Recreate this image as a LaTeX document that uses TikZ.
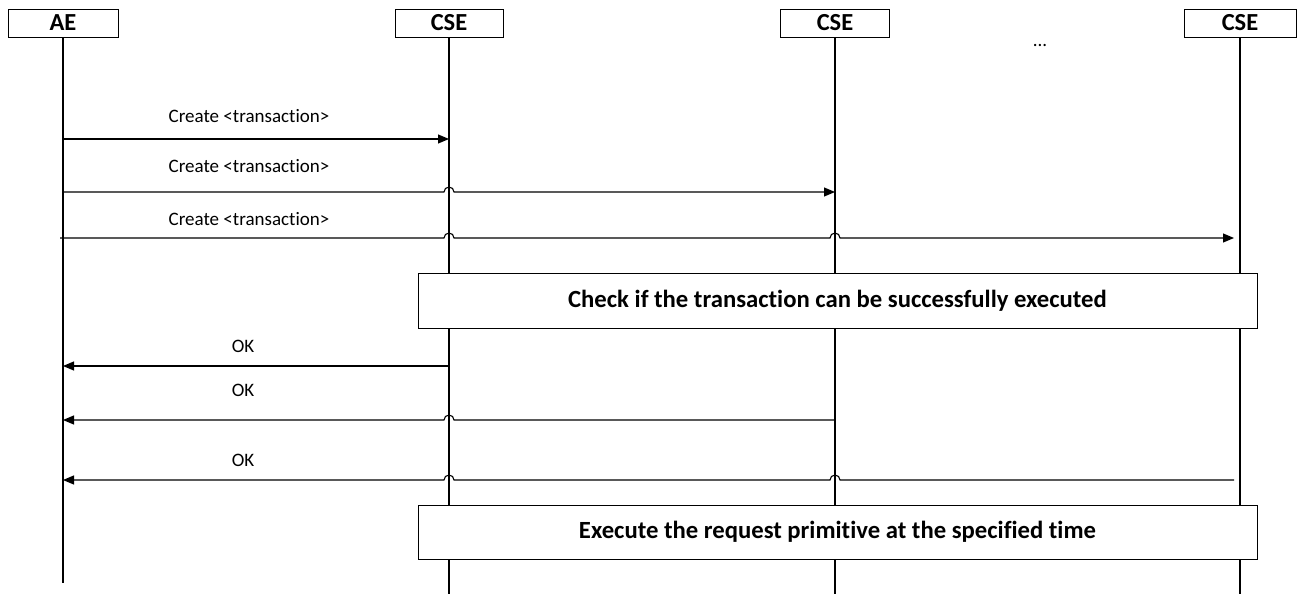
\documentclass[tikz,border=0pt]{standalone}
\usepackage{fontspec}
\setmainfont{Carlito}[Ligatures={NoCommon}]
\usetikzlibrary{arrows.meta,calc}
\begin{document}
\begin{tikzpicture}[x=1pt,y=-1pt,
  head/.style={draw, line width=0.8pt, minimum height=28pt, inner sep=0pt, font=\bfseries\fontsize{24.5}{24.5}\selectfont},
  life/.style={line width=1.1pt},
  msg/.style={line width=1.1pt, -{Triangle[length=11pt,width=9pt]}},
  lbl/.style={inner sep=0pt, font=\fontsize{19}{19}\selectfont},
  act/.style={draw, line width=0.8pt, fill=white, minimum width=839pt, inner sep=0pt, font=\bfseries\fontsize{24.7}{24.7}\selectfont}]
\useasboundingbox (0,0) rectangle (1306,599);
% headers
\node[head, minimum width=110pt] (ae) at (63,23) {AE};
\node[head, minimum width=108pt] (c1) at (449,23) {CSE};
\node[head, minimum width=109pt] (c2) at (835,23) {CSE};
\node[head, minimum width=112pt] (c3) at (1240,23) {CSE};
\node[lbl] (dots) at (1040,45) {...};
% lifeline ends
\coordinate (aeb) at (63,583);
\coordinate (c1b) at (449,594);
\coordinate (c2b) at (835,594);
\coordinate (c3b) at (1240,594);
\draw[life] (ae) -- (aeb);
\draw[life] (c1) -- (c1b);
\draw[life] (c2) -- (c2b);
\draw[life] (c3) -- (c3b);
% message end points
\coordinate (m1s) at (63,139);  \coordinate (m1e) at (449,139);
\coordinate (m2s) at (63,192);  \coordinate (m2e) at (835,192);
\coordinate (m3s) at (60,238);  \coordinate (m3e) at (1234,238);
\coordinate (m4s) at (449,366); \coordinate (m4e) at (63,366);
\coordinate (m5s) at (835,420); \coordinate (m5e) at (63,420);
\coordinate (m6s) at (1234,480); \coordinate (m6e) at (63,480);
% requests
\draw[msg] (m1s) -- (m1e);
\draw[msg] (m2s) -- ($(c1b |- m2s)+(-5,0)$) arc[start angle=180,end angle=0,radius=5pt] -- (m2e);
\draw[msg] (m3s) -- ($(c1b |- m3s)+(-5,0)$) arc[start angle=180,end angle=0,radius=5pt]
  -- ($(c2b |- m3s)+(-5,0)$) arc[start angle=180,end angle=0,radius=5pt] -- (m3e);
\node[lbl] (l1) at (249,116) {Create <transaction>};
\node[lbl] (l2) at (249,166) {Create <transaction>};
\node[lbl] (l3) at (249,219) {Create <transaction>};
% check box
\node[act, minimum height=55pt] (chk) at (837.5,300.5) {Check if the transaction can be successfully executed};
% responses
\draw[msg] (m4s) -- (m4e);
\draw[msg] (m5s) -- ($(c1b |- m5s)+(5,0)$) arc[start angle=0,end angle=180,radius=5pt] -- (m5e);
\draw[msg] (m6s) -- ($(c2b |- m6s)+(5,0)$) arc[start angle=0,end angle=180,radius=5pt]
  -- ($(c1b |- m6s)+(5,0)$) arc[start angle=0,end angle=180,radius=5pt] -- (m6e);
\node[lbl] (o1) at (243,346) {OK};
\node[lbl] (o2) at (243,390) {OK};
\node[lbl] (o3) at (243,460) {OK};
% execute box
\node[act, minimum height=54pt] (exe) at (837.5,532) {Execute the request primitive at the specified time};
\end{tikzpicture}
\end{document}
